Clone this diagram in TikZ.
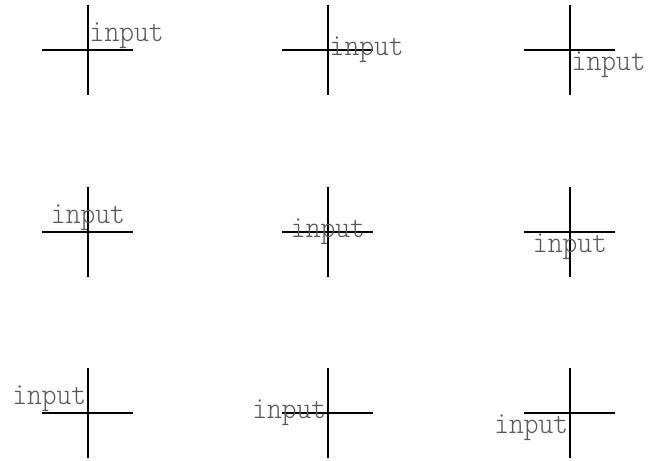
\documentclass[tikz,border=0pt]{standalone}
\begin{document}
\begin{tikzpicture}[x=1pt,y=-1pt,
  crossline/.style={line width=1.6pt,black},
  lbl/.style={inner sep=1.5pt,text=black!65,font={\ttfamily\fontseries{l}\fontsize{47pt}{50pt}\selectfont}}]
\newcommand{\lbltext}{\scalebox{0.6}[0.66]{input}}
\useasboundingbox (0,0) rectangle (649,461);
\foreach \r/\y in {1/50,2/232,3/413}{
  \foreach \c/\x in {1/88,2/328,3/570}{
    \coordinate (c\r\c) at (\x,\y);
    \draw[crossline] ([xshift=-46pt]c\r\c) -- ([xshift=45pt]c\r\c);
    \draw[crossline] ([yshift=45pt]c\r\c) -- ([yshift=-45pt]c\r\c);
  }
}
\node[lbl,anchor=south west] (t11) at (c11) {\lbltext};
\node[lbl,anchor=west]       (t12) at (c12) {\lbltext};
\node[lbl,anchor=north west] (t13) at (c13) {\lbltext};
\node[lbl,anchor=south]      (t21) at (c21) {\lbltext};
\node[lbl,anchor=center]     (t22) at (c22) {\lbltext};
\node[lbl,anchor=north]      (t23) at (c23) {\lbltext};
\node[lbl,anchor=south east] (t31) at (c31) {\lbltext};
\node[lbl,anchor=east]       (t32) at (c32) {\lbltext};
\node[lbl,anchor=north east] (t33) at (c33) {\lbltext};
\end{tikzpicture}
\end{document}
